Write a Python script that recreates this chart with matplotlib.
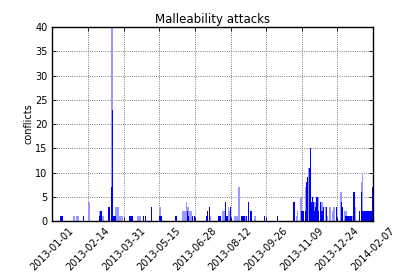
import numpy as np
import pandas as pd
import matplotlib
matplotlib.use("Agg")
import matplotlib.pyplot as plt
import matplotlib.dates as mdates

# Daily conflict counts, days counted from 2013-01-01
start = pd.Timestamp("2013-01-01")

dark_days = [10, 11, 12, 13, 39, 59, 61, 62, 71, 72, 74, 75, 76, 77, 78, 79,
             97, 98, 99, 100, 114, 117, 124, 134, 135, 136, 137, 155, 169, 170,
             176, 178, 193, 195, 197, 208, 209, 210, 211, 217, 219, 223, 237, 239,
             241, 243, 246, 248, 249, 250, 266, 282, 302, 303, 304, 312, 313, 315,
             317, 319, 320, 323, 324, 325, 326, 327, 328, 329, 330, 331, 332, 333,
             334, 336, 337, 338, 339, 340, 344, 356, 362, 363, 364, 367, 368, 369,
             370, 371, 373, 375, 377, 378, 385, 387, 389, 390, 391, 392, 393, 394,
             395, 396, 397, 398, 399, 400, 401]
dark_vals = [1, 1, 1, 1, 1, 1, 2, 2, 3, 3, 7, 23, 1, 1, 1, 1,
             1, 1, 1, 1, 1, 1, 3, 1, 1, 1, 1, 1, 2, 1,
             1, 1, 1, 2, 3, 1, 1, 1, 1, 4, 1, 3, 1, 1,
             1, 1, 4, 2, 2, 2, 1, 1, 4, 4, 3, 2, 2, 2,
             2, 8, 9, 11, 15, 4, 5, 4, 2, 1, 3, 5, 5, 2,
             1, 4, 1, 2, 1, 3, 3, 3, 4, 3, 1, 1, 1, 1,
             1, 1, 1, 1, 2, 6, 2, 6, 2, 2, 2, 2, 2, 2,
             2, 2, 2, 2, 2, 2, 7]

light_days = [27, 28, 31, 32, 33, 46, 60, 63, 64, 75, 80, 81, 82, 83,
              85, 86, 87, 88, 107, 108, 109, 110, 135, 164, 165, 166, 167, 168,
              170, 172, 173, 174, 198, 208, 209, 210, 211, 213, 214, 215, 221,
              222, 229, 230, 231, 232, 234, 235, 237, 238, 240, 242, 248, 249,
              250, 254, 306, 307, 311, 312, 317, 321, 325, 326, 327, 328, 329,
              330, 332, 333, 334, 336, 337, 338, 339, 342, 345, 347, 348, 349,
              351, 353, 361, 362, 366, 367, 368, 371, 372, 374, 376, 380, 388,
              389, 390, 391, 392, 393, 394, 395, 396, 397, 398, 399, 400, 401]
light_vals = [1, 1, 1, 1, 1, 4, 2, 1, 1, 45, 3, 3, 3, 3,
              1, 1, 1, 1, 1, 1, 1, 1, 3, 2, 2, 2, 2, 4,
              3, 2, 2, 2, 1, 1, 1, 1, 1, 2, 2, 2, 3,
              2, 1, 1, 1, 1, 7, 7, 1, 1, 1, 1, 2, 2,
              2, 1, 1, 2, 5, 5, 7, 11, 4, 4, 4, 4, 4,
              4, 5, 5, 5, 4, 4, 4, 4, 3, 1, 3, 3, 3,
              2, 3, 6, 6, 2, 2, 2, 1, 1, 1, 1, 3, 8,
              10, 2, 2, 2, 2, 2, 2, 2, 2, 2, 2, 2, 4]

tick_first = pd.Timestamp("2013-01-01")
tick_last = pd.Timestamp("2014-02-07")

plt.rcParams['font.family'] = 'DejaVu Sans'
plt.rcParams['xtick.direction'] = 'in'
plt.rcParams['ytick.direction'] = 'in'

fig = plt.figure(figsize=(4.15, 2.77), dpi=100)
ax = fig.add_axes([0.126, 0.202, 0.773, 0.70])

light_x = [start + pd.Timedelta(days=d) for d in light_days]
dark_x = [start + pd.Timedelta(days=d) for d in dark_days]
ax.bar(light_x, light_vals, width=1.7, color='#9999ff', linewidth=0)
ax.bar(dark_x, dark_vals, width=1.5, color='#0000ff', linewidth=0)

ticks = pd.to_datetime(np.linspace(tick_first.value, tick_last.value, 10))
ax.set_xlim(tick_first, tick_last)
ax.set_xticks(ticks)
ax.xaxis.set_major_formatter(mdates.DateFormatter('%Y-%m-%d'))
ax.set_ylim(0, 40)
ax.set_yticks(range(0, 41, 5))

ax.grid(True, linestyle=':', color='#555555', linewidth=0.6)
ax.set_axisbelow(True)
ax.tick_params(top=True, right=True, labelsize=7, length=3, width=0.6)
for lbl in ax.get_xticklabels():
    lbl.set_rotation(45)
    lbl.set_ha('center')
for s in ax.spines.values():
    s.set_linewidth(1.0)

ax.set_ylabel('conflicts', fontsize=7, labelpad=1)
ax.set_title('Malleability attacks', fontsize=8.5, pad=3)

fig.savefig('out.png', dpi=100)
